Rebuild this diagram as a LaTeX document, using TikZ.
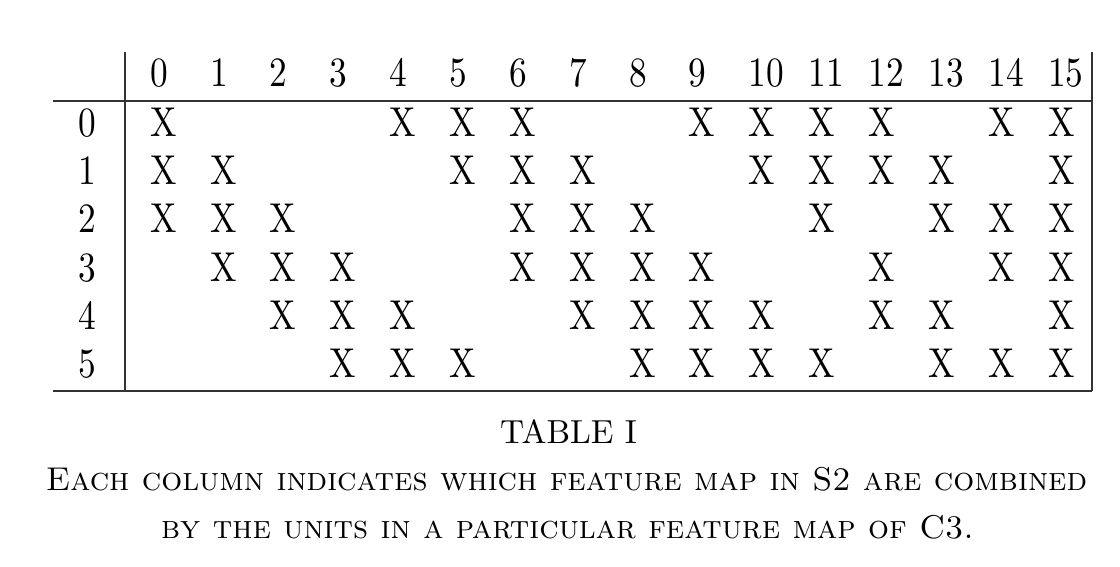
\documentclass[tikz,border=0pt]{standalone}
\usepackage{graphicx}
\newcommand{\tg}[1]{\scalebox{1}[1.18]{#1}}
\begin{document}
\begin{tikzpicture}[x=0.3pt,y=-0.3pt,
  tabtext/.style={anchor=base west,inner sep=0pt,font=\fontsize{10.6}{12}\selectfont},
  rowlab/.style={anchor=base,inner sep=0pt,font=\fontsize{10.6}{12}\selectfont},
  captext/.style={anchor=base,inner sep=0pt,font=\fontsize{10}{12}\selectfont},
  capsc/.style={anchor=base,inner sep=0pt,font=\fontsize{9.88}{12}\selectfont},
  rule/.style={line width=0.55pt,draw=black!80}]
\useasboundingbox (0,0) rectangle (1120,566);
% rules
\coordinate (vlT) at (125,52);
\coordinate (vlB) at (125,391);
\coordinate (vrT) at (1092,52);
\coordinate (vrB) at (1092,391);
\coordinate (hTL) at (53,101);
\coordinate (hTR) at (1092,101);
\coordinate (hBL) at (53,391);
\coordinate (hBR) at (1092,391);
\draw[rule] (vlT) -- (vlB);
\draw[rule] (vrT) -- (vrB);
\draw[rule] (hTL) -- (hTR);
\draw[rule] (hBL) -- (hBR);
% header
\foreach \c in {0,...,15}
  \node[tabtext] (h\c) at ({149.5+59.87*\c},86.5) {\tg{\c}};
% rows
\foreach \r/\cols in {0/{0,4,5,6,9,10,11,12,14,15},
                      1/{0,1,5,6,7,10,11,12,13,15},
                      2/{0,1,2,6,7,8,11,13,14,15},
                      3/{1,2,3,6,7,8,9,12,14,15},
                      4/{2,3,4,7,8,9,10,12,13,15},
                      5/{3,4,5,8,9,10,11,13,14,15}} {
  \node[rowlab] (r\r) at (87,{136.5+48.2*\r}) {\tg{\r}};
  \foreach \c in \cols
    \node[tabtext] (x\r-\c) at ({149.5+59.87*\c},{136.5+48.2*\r}) {\tg{X}};
}
% caption
\node[captext] (cap0) at (568.5,443) {TABLE I};
\node[capsc] (cap1) at (566.5,490) {\textsc{Each column indicates which feature map in S2 are combined}};
\node[capsc] (cap2) at (567.5,538) {\textsc{by the units in a particular feature map of C3.}};
\end{tikzpicture}
\end{document}
